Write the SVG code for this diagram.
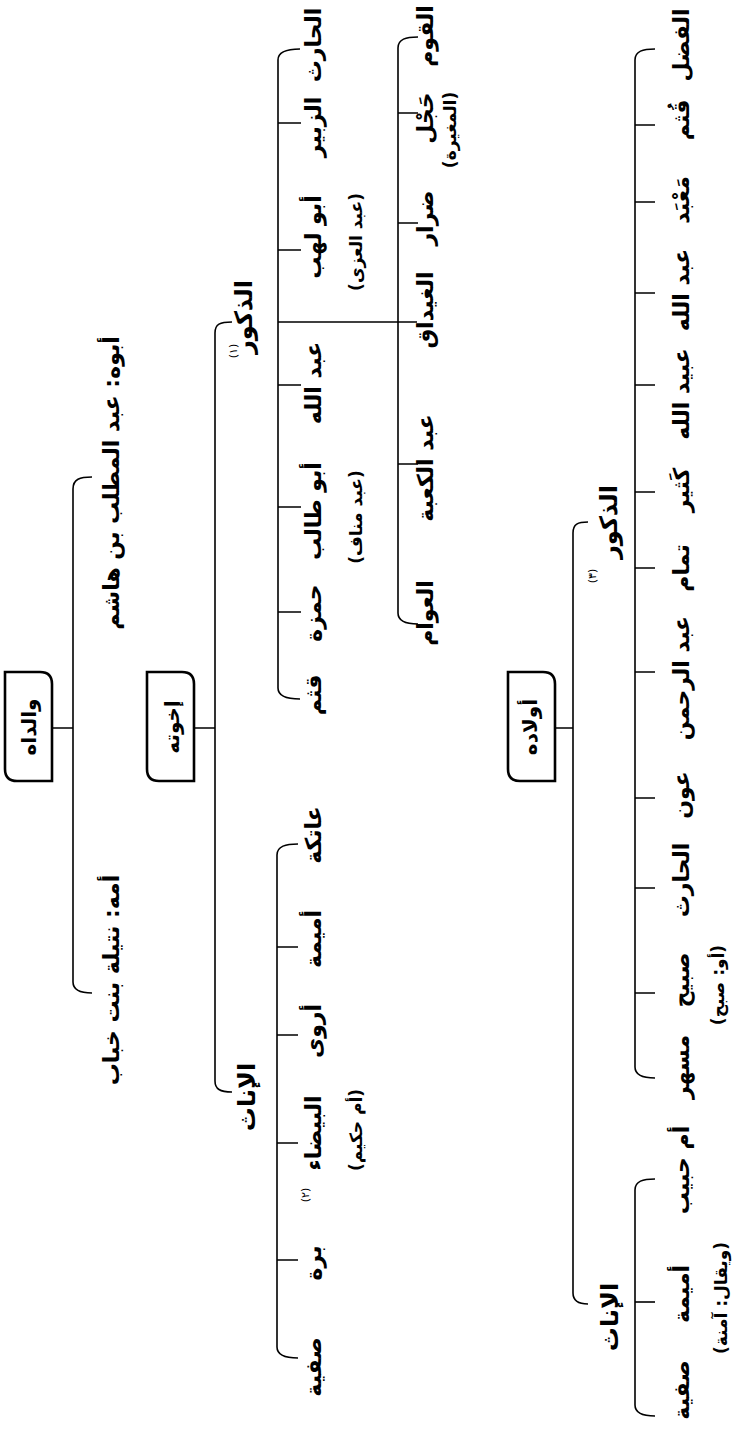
<svg xmlns="http://www.w3.org/2000/svg" width="735" height="1429" viewBox="0 0 735 1429">
<style>
.ln{fill:none;stroke:#000;stroke-width:1.6}
.box{fill:#fff;stroke:#000;stroke-width:2.6}
text{font-family:"DejaVu Sans",sans-serif;font-weight:bold;fill:#000;text-anchor:middle;direction:rtl}
.n{font-size:22px}
.p{font-size:22px}
.l{font-size:24px}
.s{font-size:17px}
.f{font-size:11px;font-weight:normal}
.b{font-size:20px}
</style>
<rect width="735" height="1429" fill="#fff"/>
<g id="connectors">
<path class="ln" d="M52,728H73M194,728H215M555,728H573"/>
<path class="ln" d="M92,477C80,477 73,479 73,489V982C73,990 80,993 92,993"/>
<path class="ln" d="M232,322C220,322 215,324 215,333V1081C215,1089 220,1092 232,1092"/>
<path class="ln" d="M300,49C288,49 278,51 278,60V688C278,696 288,699 300,699"/>
<path class="ln" d="M278,123H301M278,250H301M278,385H301M278,507H301M278,612H301M278,322H417"/>
<path class="ln" d="M418,37C406,37 398,39 398,48V613C398,621 406,624 418,624"/>
<path class="ln" d="M398,113H418M398,223H418M398,464H418"/>
<path class="ln" d="M298,844C286,844 277,846 277,855V1347C277,1355 286,1358 298,1358"/>
<path class="ln" d="M277,947H298M277,1035H298M277,1143H298M277,1260H298"/>
<path class="ln" d="M588,522C578,522 573,524 573,533V1293C573,1301 578,1304 588,1304"/>
<path class="ln" d="M655,49C643,49 635,51 635,60V1067C635,1075 643,1078 655,1078"/>
<path class="ln" d="M635,125H655M635,202H655M635,293H655M635,385H655M635,492H655M635,568H655M635,672H655M635,798H655M635,888H655M635,993H655"/>
<path class="ln" d="M655,1179C643,1179 635,1181 635,1190V1405C635,1413 643,1416 655,1416"/>
<path class="ln" d="M635,1302H655"/>
</g>
<g id="root-parents">
<path class="box" d="M5,672H40Q52,672 52,684V781H17Q5,781 5,769Z"/>
<text class="b" transform="translate(36,727) rotate(-90)">والداه</text>
</g>
<g id="root-siblings">
<path class="box" d="M147,672H182Q194,672 194,684V781H159Q147,781 147,769Z"/>
<text class="b" transform="translate(179,727) rotate(-90)">إخوته</text>
</g>
<g id="root-children">
<path class="box" d="M508,672H543Q555,672 555,684V781H520Q508,781 508,769Z"/>
<text class="b" transform="translate(537,727) rotate(-90)">أولاده</text>
</g>
<g id="father"><text class="p" transform="translate(119,483) rotate(-90)">أبوه: عبد المطلب بن هاشم</text></g>
<g id="mother"><text class="p" transform="translate(119,980) rotate(-90)">أمه: نتيلة بنت خباب</text></g>
<g id="sib-males"><text class="l" transform="translate(252,317) rotate(-90)">الذكور</text><text class="f" transform="translate(237,351) rotate(-90)">(١)</text></g>
<g id="sib-females"><text class="l" transform="translate(255,1097) rotate(-90)">الإناث</text></g>
<g id="ch-males"><text class="l" transform="translate(617,522) rotate(-90)">الذكور</text><text class="f" transform="translate(596,576) rotate(-90)">(٣)</text></g>
<g id="ch-females"><text class="l" transform="translate(618,1317) rotate(-90)">الإناث</text></g>
<g id="s1"><text class="n" transform="translate(321,45) rotate(-90)">الحارث</text></g>
<g id="s2"><text class="n" transform="translate(321,127) rotate(-90)">الزبير</text></g>
<g id="s3"><text class="n" transform="translate(321,237) rotate(-90)">أبو لهب</text><text class="s" transform="translate(362,242) rotate(-90)">(عبد العزى)</text></g>
<g id="s4"><text class="n" transform="translate(321,383) rotate(-90)">عبد الله</text></g>
<g id="s5"><text class="n" transform="translate(321,511) rotate(-90)">أبو طالب</text><text class="s" transform="translate(362,517) rotate(-90)">(عبد مناف)</text></g>
<g id="s6"><text class="n" transform="translate(321,613) rotate(-90)">حمزة</text></g>
<g id="s7"><text class="n" transform="translate(321,695) rotate(-90)">قثم</text></g>
<g id="s8"><text class="n" transform="translate(433,36) rotate(-90)">القوم</text></g>
<g id="s9"><text class="n" transform="translate(433,118) rotate(-90)">حَجْل</text><text class="s" transform="translate(456,130) rotate(-90)">(المغيرة)</text></g>
<g id="s10"><text class="n" transform="translate(433,218) rotate(-90)">ضرار</text></g>
<g id="s11"><text class="n" transform="translate(433,310) rotate(-90)">الغيداق</text></g>
<g id="s12"><text class="n" transform="translate(433,468) rotate(-90)">عبد الكعبة</text></g>
<g id="s13"><text class="n" transform="translate(433,613) rotate(-90)">العوام</text></g>
<g id="f1"><text class="n" transform="translate(321,835) rotate(-90)">عاتكة</text></g>
<g id="f2"><text class="n" transform="translate(321,939) rotate(-90)">أميمة</text></g>
<g id="f3"><text class="n" transform="translate(321,1031) rotate(-90)">أروى</text></g>
<g id="f4"><text class="n" transform="translate(321,1133) rotate(-90)">البيضاء</text><text class="s" transform="translate(362,1130) rotate(-90)">(أم حكيم)</text><text class="f" transform="translate(309,1195) rotate(-90)">(٢)</text></g>
<g id="f5"><text class="n" transform="translate(321,1263) rotate(-90)">برة</text></g>
<g id="f6"><text class="n" transform="translate(321,1367) rotate(-90)">صفية</text></g>
<g id="c1"><text class="n" transform="translate(689,45) rotate(-90)">الفضل</text></g>
<g id="c2"><text class="n" transform="translate(689,120) rotate(-90)">قُثم</text></g>
<g id="c3"><text class="n" transform="translate(689,200) rotate(-90)">مَعْبَد</text></g>
<g id="c4"><text class="n" transform="translate(689,290) rotate(-90)">عبد الله</text></g>
<g id="c5"><text class="n" transform="translate(689,394) rotate(-90)">عبيد الله</text></g>
<g id="c6"><text class="n" transform="translate(689,490) rotate(-90)">كَثير</text></g>
<g id="c7"><text class="n" transform="translate(689,568) rotate(-90)">تمام</text></g>
<g id="c8"><text class="n" transform="translate(689,678) rotate(-90)">عبد الرحمن</text></g>
<g id="c9"><text class="n" transform="translate(689,795) rotate(-90)">عون</text></g>
<g id="c10"><text class="n" transform="translate(689,880) rotate(-90)">الحارث</text></g>
<g id="c11"><text class="n" transform="translate(689,980) rotate(-90)">صبيح</text><text class="s" transform="translate(724,985) rotate(-90)">(أو: صبح)</text></g>
<g id="c12"><text class="n" transform="translate(689,1067) rotate(-90)">مسهر</text></g>
<g id="d1"><text class="n" transform="translate(689,1170) rotate(-90)">أم حبيب</text></g>
<g id="d2"><text class="n" transform="translate(689,1294) rotate(-90)">أميمة</text><text class="s" transform="translate(727,1298) rotate(-90)">(ويقال: آمنة)</text></g>
<g id="d3"><text class="n" transform="translate(689,1390) rotate(-90)">صفية</text></g>
</svg>
